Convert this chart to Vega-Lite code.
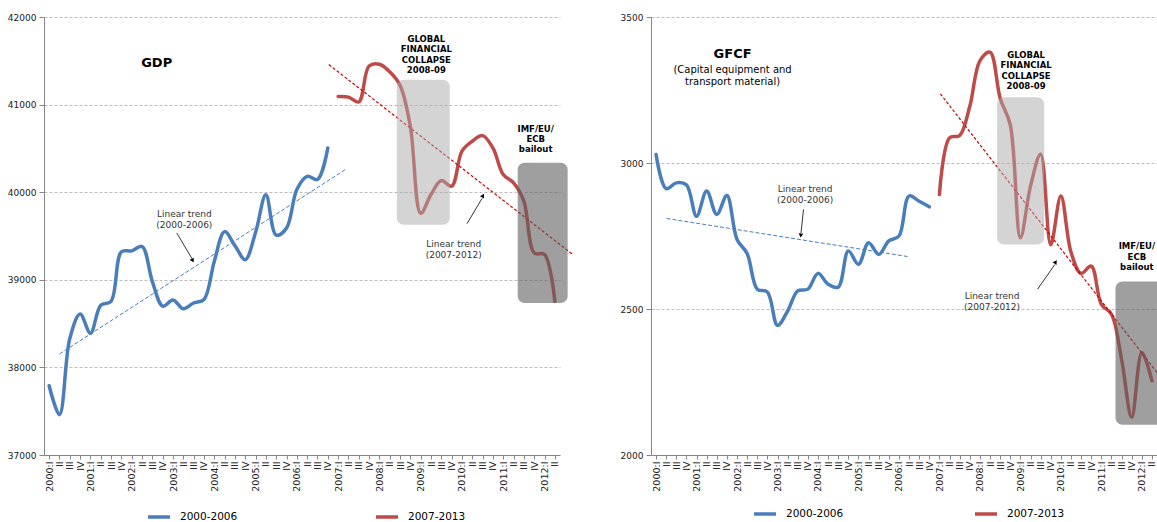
{
  "$schema": "https://vega.github.io/schema/vega-lite/v6.json",
  "background": "white",
  "padding": {"left": 7, "top": 13, "right": 0, "bottom": 0},
  "bounds": "flush",
  "spacing": 91,
  "config": {
    "view": {"stroke": null},
    "font": "DejaVu Sans",
    "axis": {
      "labelFont": "DejaVu Sans",
      "labelColor": "#1a1a1a",
      "domainColor": "#868686",
      "tickColor": "#868686"
    },
    "text": {"font": "DejaVu Sans"}
  },
  "resolve": {
    "scale": {"x": "independent", "y": "independent", "color": "independent"},
    "legend": {"color": "independent"}
  },
  "datasets": {
    "gdp": [
      {"i": 0, "v": 37790, "s": "2000-2006"},
      {"i": 1, "v": 37460, "s": "2000-2006"},
      {"i": 2, "v": 38330, "s": "2000-2006"},
      {"i": 3, "v": 38610, "s": "2000-2006"},
      {"i": 4, "v": 38390, "s": "2000-2006"},
      {"i": 5, "v": 38710, "s": "2000-2006"},
      {"i": 6, "v": 38755, "s": "2000-2006"},
      {"i": 7, "v": 39320, "s": "2000-2006"},
      {"i": 8, "v": 39330, "s": "2000-2006"},
      {"i": 9, "v": 39380, "s": "2000-2006"},
      {"i": 10, "v": 38980, "s": "2000-2006"},
      {"i": 11, "v": 38700, "s": "2000-2006"},
      {"i": 12, "v": 38770, "s": "2000-2006"},
      {"i": 13, "v": 38670, "s": "2000-2006"},
      {"i": 14, "v": 38735, "s": "2000-2006"},
      {"i": 15, "v": 38775, "s": "2000-2006"},
      {"i": 16, "v": 39210, "s": "2000-2006"},
      {"i": 17, "v": 39550, "s": "2000-2006"},
      {"i": 18, "v": 39390, "s": "2000-2006"},
      {"i": 19, "v": 39230, "s": "2000-2006"},
      {"i": 20, "v": 39540, "s": "2000-2006"},
      {"i": 21, "v": 39970, "s": "2000-2006"},
      {"i": 22, "v": 39510, "s": "2000-2006"},
      {"i": 23, "v": 39590, "s": "2000-2006"},
      {"i": 24, "v": 40030, "s": "2000-2006"},
      {"i": 25, "v": 40180, "s": "2000-2006"},
      {"i": 26, "v": 40145, "s": "2000-2006"},
      {"i": 27, "v": 40505, "s": "2000-2006"},
      {"i": 28, "v": 41092, "s": "2007-2013"},
      {"i": 29, "v": 41085, "s": "2007-2013"},
      {"i": 30, "v": 41030, "s": "2007-2013"},
      {"i": 31, "v": 41440, "s": "2007-2013"},
      {"i": 32, "v": 41460, "s": "2007-2013"},
      {"i": 33, "v": 41374, "s": "2007-2013"},
      {"i": 34, "v": 41220, "s": "2007-2013"},
      {"i": 35, "v": 40750, "s": "2007-2013"},
      {"i": 36, "v": 39760, "s": "2007-2013"},
      {"i": 37, "v": 39973, "s": "2007-2013"},
      {"i": 38, "v": 40133, "s": "2007-2013"},
      {"i": 39, "v": 40068, "s": "2007-2013"},
      {"i": 40, "v": 40468, "s": "2007-2013"},
      {"i": 41, "v": 40582, "s": "2007-2013"},
      {"i": 42, "v": 40646, "s": "2007-2013"},
      {"i": 43, "v": 40505, "s": "2007-2013"},
      {"i": 44, "v": 40201, "s": "2007-2013"},
      {"i": 45, "v": 40106, "s": "2007-2013"},
      {"i": 46, "v": 39897, "s": "2007-2013"},
      {"i": 47, "v": 39307, "s": "2007-2013"},
      {"i": 48, "v": 39288, "s": "2007-2013"},
      {"i": 49, "v": 38755, "s": "2007-2013"}
    ],
    "gfcf": [
      {"i": 0, "v": 3029, "s": "2000-2006"},
      {"i": 1, "v": 2912, "s": "2000-2006"},
      {"i": 2, "v": 2932, "s": "2000-2006"},
      {"i": 3, "v": 2925, "s": "2000-2006"},
      {"i": 4, "v": 2818, "s": "2000-2006"},
      {"i": 5, "v": 2904, "s": "2000-2006"},
      {"i": 6, "v": 2824, "s": "2000-2006"},
      {"i": 7, "v": 2889, "s": "2000-2006"},
      {"i": 8, "v": 2738, "s": "2000-2006"},
      {"i": 9, "v": 2690, "s": "2000-2006"},
      {"i": 10, "v": 2568, "s": "2000-2006"},
      {"i": 11, "v": 2558, "s": "2000-2006"},
      {"i": 12, "v": 2444, "s": "2000-2006"},
      {"i": 13, "v": 2493, "s": "2000-2006"},
      {"i": 14, "v": 2562, "s": "2000-2006"},
      {"i": 15, "v": 2568, "s": "2000-2006"},
      {"i": 16, "v": 2622, "s": "2000-2006"},
      {"i": 17, "v": 2585, "s": "2000-2006"},
      {"i": 18, "v": 2575, "s": "2000-2006"},
      {"i": 19, "v": 2699, "s": "2000-2006"},
      {"i": 20, "v": 2653, "s": "2000-2006"},
      {"i": 21, "v": 2727, "s": "2000-2006"},
      {"i": 22, "v": 2687, "s": "2000-2006"},
      {"i": 23, "v": 2733, "s": "2000-2006"},
      {"i": 24, "v": 2750, "s": "2000-2006"},
      {"i": 25, "v": 2887, "s": "2000-2006"},
      {"i": 26, "v": 2869, "s": "2000-2006"},
      {"i": 27, "v": 2850, "s": "2000-2006"},
      {"i": 28, "v": 2892, "s": "2007-2013"},
      {"i": 29, "v": 3086, "s": "2007-2013"},
      {"i": 30, "v": 3094, "s": "2007-2013"},
      {"i": 31, "v": 3194, "s": "2007-2013"},
      {"i": 32, "v": 3350, "s": "2007-2013"},
      {"i": 33, "v": 3380, "s": "2007-2013"},
      {"i": 34, "v": 3222, "s": "2007-2013"},
      {"i": 35, "v": 3131, "s": "2007-2013"},
      {"i": 36, "v": 2744, "s": "2007-2013"},
      {"i": 37, "v": 2921, "s": "2007-2013"},
      {"i": 38, "v": 3030, "s": "2007-2013"},
      {"i": 39, "v": 2720, "s": "2007-2013"},
      {"i": 40, "v": 2887, "s": "2007-2013"},
      {"i": 41, "v": 2695, "s": "2007-2013"},
      {"i": 42, "v": 2622, "s": "2007-2013"},
      {"i": 43, "v": 2647, "s": "2007-2013"},
      {"i": 44, "v": 2516, "s": "2007-2013"},
      {"i": 45, "v": 2482, "s": "2007-2013"},
      {"i": 46, "v": 2328, "s": "2007-2013"},
      {"i": 47, "v": 2129, "s": "2007-2013"},
      {"i": 48, "v": 2351, "s": "2007-2013"},
      {"i": 49, "v": 2254, "s": "2007-2013"}
    ]
  },
  "hconcat": [
    {
      "width": 516,
      "height": 438,
      "encoding": {
        "x": {
          "field": "i",
          "type": "quantitative",
          "scale": {"domain": [-0.5, 49.5], "nice": false, "zero": false},
          "axis": {
            "title": null,
            "values": [0,1,2,3,4,5,6,7,8,9,10,11,12,13,14,15,16,17,18,19,20,21,22,23,24,25,26,27,28,29,30,31,32,33,34,35,36,37,38,39,40,41,42,43,44,45,46,47,48,49],
            "labelExpr": "datum.value % 4 == 0 ? (2000 + floor(datum.value / 4)) + ':I' : (datum.value % 4 == 1 ? 'II' : (datum.value % 4 == 2 ? 'III' : 'IV'))",
            "labelAngle": -90,
            "labelFontSize": 9.5,
            "labelPadding": 2,
            "labelOverlap": false,
            "labelFlush": false,
            "tickSize": 4,
            "grid": false
          }
        },
        "y": {
          "field": "v",
          "type": "quantitative",
          "scale": {"domain": [37000, 42000], "nice": false, "zero": false},
          "axis": {
            "title": null,
            "values": [37000, 38000, 39000, 40000, 41000, 42000],
            "format": "d",
            "labelFontSize": 9,
            "labelPadding": 3,
            "tickSize": 5,
            "grid": true,
            "gridColor": "#bdbdbd",
            "gridDash": [3, 2]
          }
        }
      },
      "layer": [
        {
          "data": {"name": "gdp"},
          "mark": {"type": "line", "interpolate": "catmull-rom", "strokeWidth": 3.5, "strokeCap": "round"},
          "encoding": {
            "color": {
              "field": "s",
              "type": "nominal",
              "scale": {"domain": ["2000-2006", "2007-2013"], "range": ["#4a7ebb", "#be4b48"]},
              "legend": {
                "title": null,
                "orient": "none",
                "legendX": 108,
                "legendY": 493,
                "direction": "horizontal",
                "symbolType": "M-2.2,0H2.2",
                "symbolSize": 100,
                "symbolStrokeWidth": 3.5,
                "labelFont": "DejaVu Sans",
                "labelFontSize": 10.5,
                "labelColor": "#000000",
                "labelOffset": 14,
                "columnPadding": 131
              }
            }
          }
        },
        {
          "data": {"values": [{"i": 1, "v": 38153}, {"i": 28.8, "v": 40266}]},
          "mark": {"type": "line", "color": "#4a7ebb", "strokeWidth": 1, "strokeDash": [4, 2]},
          "encoding": {}
        },
        {
          "data": {"values": [{"i": 27.1, "v": 41457}, {"i": 50.75, "v": 39288}]},
          "mark": {"type": "line", "color": "#d40000", "strokeWidth": 1.2, "strokeDash": [3, 2]},
          "encoding": {}
        },
        {
          "data": {"values": [{"i": 33.69, "i2": 38.82, "v": 41283, "v2": 39627}]},
          "mark": {"type": "rect", "fill": "#a9a9a9", "opacity": 0.5, "cornerRadius": 7},
          "encoding": {"x2": {"field": "i2"}, "y2": {"field": "v2"}}
        },
        {
          "data": {"values": [{"i": 45.4, "i2": 50.24, "v": 40335, "v2": 38736}]},
          "mark": {"type": "rect", "fill": "#5f5f5f", "opacity": 0.6, "cornerRadius": 7},
          "encoding": {"x2": {"field": "i2"}, "y2": {"field": "v2"}}
        },
        {
          "data": {"values": [{"i": 10.42, "v": 41471, "t": "GDP"}]},
          "mark": {"type": "text", "fontWeight": "bold", "fontSize": 13, "color": "#000000"},
          "encoding": {"text": {"field": "t"}}
        },
        {
          "data": {"values": [
            {"i": 36.55, "v": 41751, "t": "GLOBAL\nFINANCIAL\nCOLLAPSE\n2008-09"},
            {"i": 47.14, "v": 40727, "t": "IMF/EU/\nECB\nbailout"}
          ]},
          "mark": {"type": "text", "fontWeight": "bold", "fontSize": 8.5, "lineBreak": "\n", "lineHeight": 10.4, "baseline": "middle", "color": "#000000"},
          "encoding": {"text": {"field": "t"}}
        },
        {
          "data": {"values": [
            {"i": 13.1, "v": 39752, "t": "Linear trend\n(2000-2006)"},
            {"i": 39.2, "v": 39410, "t": "Linear trend\n(2007-2012)"}
          ]},
          "mark": {"type": "text", "fontSize": 9, "lineBreak": "\n", "lineHeight": 10.8, "baseline": "middle", "color": "#333333"},
          "encoding": {"text": {"field": "t"}}
        },
        {
          "data": {"values": [
            {"i": 12.36, "v": 39535, "i2": 13.85, "v2": 39240},
            {"i": 40.49, "v": 39641, "i2": 41.95, "v2": 39930}
          ]},
          "mark": {"type": "rule", "color": "#000000", "strokeWidth": 0.8},
          "encoding": {"x2": {"field": "i2"}, "y2": {"field": "v2"}}
        },
        {
          "data": {"values": [{"i": 13.91, "v": 39219}]},
          "mark": {"type": "point", "shape": "triangle-up", "angle": 150, "size": 22, "filled": true, "color": "#000000", "opacity": 1},
          "encoding": {}
        },
        {
          "data": {"values": [{"i": 42.04, "v": 39961}]},
          "mark": {"type": "point", "shape": "triangle-up", "angle": 30, "size": 22, "filled": true, "color": "#000000", "opacity": 1},
          "encoding": {}
        }
      ]
    },
    {
      "width": 506,
      "height": 438,
      "encoding": {
        "x": {
          "field": "i",
          "type": "quantitative",
          "scale": {"domain": [-0.5, 49.5], "nice": false, "zero": false},
          "axis": {
            "title": null,
            "values": [0,1,2,3,4,5,6,7,8,9,10,11,12,13,14,15,16,17,18,19,20,21,22,23,24,25,26,27,28,29,30,31,32,33,34,35,36,37,38,39,40,41,42,43,44,45,46,47,48,49],
            "labelExpr": "datum.value % 4 == 0 ? (2000 + floor(datum.value / 4)) + ':I' : (datum.value % 4 == 1 ? 'II' : (datum.value % 4 == 2 ? 'III' : 'IV'))",
            "labelAngle": -90,
            "labelFontSize": 9.5,
            "labelPadding": 2,
            "labelOverlap": false,
            "labelFlush": false,
            "tickSize": 4,
            "grid": false
          }
        },
        "y": {
          "field": "v",
          "type": "quantitative",
          "scale": {"domain": [2000, 3500], "nice": false, "zero": false},
          "axis": {
            "title": null,
            "values": [2000, 2500, 3000, 3500],
            "format": "d",
            "labelFontSize": 9,
            "labelPadding": 3,
            "tickSize": 5,
            "grid": true,
            "gridColor": "#bdbdbd",
            "gridDash": [3, 2]
          }
        }
      },
      "layer": [
        {
          "data": {"name": "gfcf"},
          "mark": {"type": "line", "interpolate": "catmull-rom", "strokeWidth": 3.5, "strokeCap": "round", "clip": true},
          "encoding": {
            "color": {
              "field": "s",
              "type": "nominal",
              "scale": {"domain": ["2000-2006", "2007-2013"], "range": ["#4a7ebb", "#be4b48"]},
              "legend": {
                "title": null,
                "orient": "none",
                "legendX": 107,
                "legendY": 490,
                "direction": "horizontal",
                "symbolType": "M-2.2,0H2.2",
                "symbolSize": 100,
                "symbolStrokeWidth": 3.5,
                "labelFont": "DejaVu Sans",
                "labelFontSize": 10.5,
                "labelColor": "#000000",
                "labelOffset": 14,
                "columnPadding": 124
              }
            }
          }
        },
        {
          "data": {"values": [{"i": 1.04, "v": 2810}, {"i": 24.99, "v": 2679}]},
          "mark": {"type": "line", "color": "#4a7ebb", "strokeWidth": 1, "strokeDash": [4, 2]},
          "encoding": {}
        },
        {
          "data": {"values": [{"i": 28.09, "v": 3237}, {"i": 50.5, "v": 2238}]},
          "mark": {"type": "line", "color": "#d40000", "strokeWidth": 1.2, "strokeDash": [3, 2], "clip": true},
          "encoding": {}
        },
        {
          "data": {"values": [{"i": 33.7, "i2": 38.35, "v": 3225, "v2": 2721}]},
          "mark": {"type": "rect", "fill": "#a9a9a9", "opacity": 0.5, "cornerRadius": 7},
          "encoding": {"x2": {"field": "i2"}, "y2": {"field": "v2"}}
        },
        {
          "data": {"values": [{"i": 45.4, "i2": 51, "v": 2594, "v2": 2104}]},
          "mark": {"type": "rect", "fill": "#5f5f5f", "opacity": 0.6, "cornerRadius": 7, "clip": true},
          "encoding": {"x2": {"field": "i2"}, "y2": {"field": "v2"}}
        },
        {
          "data": {"values": [{"i": 7.56, "v": 3372, "t": "GFCF"}]},
          "mark": {"type": "text", "fontWeight": "bold", "fontSize": 13, "color": "#000000"},
          "encoding": {"text": {"field": "t"}}
        },
        {
          "data": {"values": [{"i": 7.56, "v": 3318, "t": "(Capital equipment and\ntransport material)"}]},
          "mark": {"type": "text", "fontSize": 10, "lineBreak": "\n", "lineHeight": 11.6, "baseline": "middle", "color": "#000000"},
          "encoding": {"text": {"field": "t"}}
        },
        {
          "data": {"values": [
            {"i": 36.56, "v": 3370, "t": "GLOBAL\nFINANCIAL\nCOLLAPSE\n2008-09"},
            {"i": 47.51, "v": 2715, "t": "IMF/EU/\nECB\nbailout"}
          ]},
          "mark": {"type": "text", "fontWeight": "bold", "fontSize": 8.5, "lineBreak": "\n", "lineHeight": 10.4, "baseline": "middle", "color": "#000000", "clip": true},
          "encoding": {"text": {"field": "t"}}
        },
        {
          "data": {"values": [
            {"i": 14.73, "v": 2911, "t": "Linear trend\n(2000-2006)"},
            {"i": 33.2, "v": 2544, "t": "Linear trend\n(2007-2012)"}
          ]},
          "mark": {"type": "text", "fontSize": 9, "lineBreak": "\n", "lineHeight": 10.8, "baseline": "middle", "color": "#333333"},
          "encoding": {"text": {"field": "t"}}
        },
        {
          "data": {"values": [
            {"i": 14.57, "v": 2841, "i2": 14.32, "v2": 2760},
            {"i": 37.7, "v": 2568, "i2": 39.4, "v2": 2652}
          ]},
          "mark": {"type": "rule", "color": "#000000", "strokeWidth": 0.8},
          "encoding": {"x2": {"field": "i2"}, "y2": {"field": "v2"}}
        },
        {
          "data": {"values": [{"i": 14.3, "v": 2752}]},
          "mark": {"type": "point", "shape": "triangle-up", "angle": 186, "size": 22, "filled": true, "color": "#000000", "opacity": 1},
          "encoding": {}
        },
        {
          "data": {"values": [{"i": 39.49, "v": 2661}]},
          "mark": {"type": "point", "shape": "triangle-up", "angle": 34, "size": 22, "filled": true, "color": "#000000", "opacity": 1},
          "encoding": {}
        }
      ]
    }
  ]
}
